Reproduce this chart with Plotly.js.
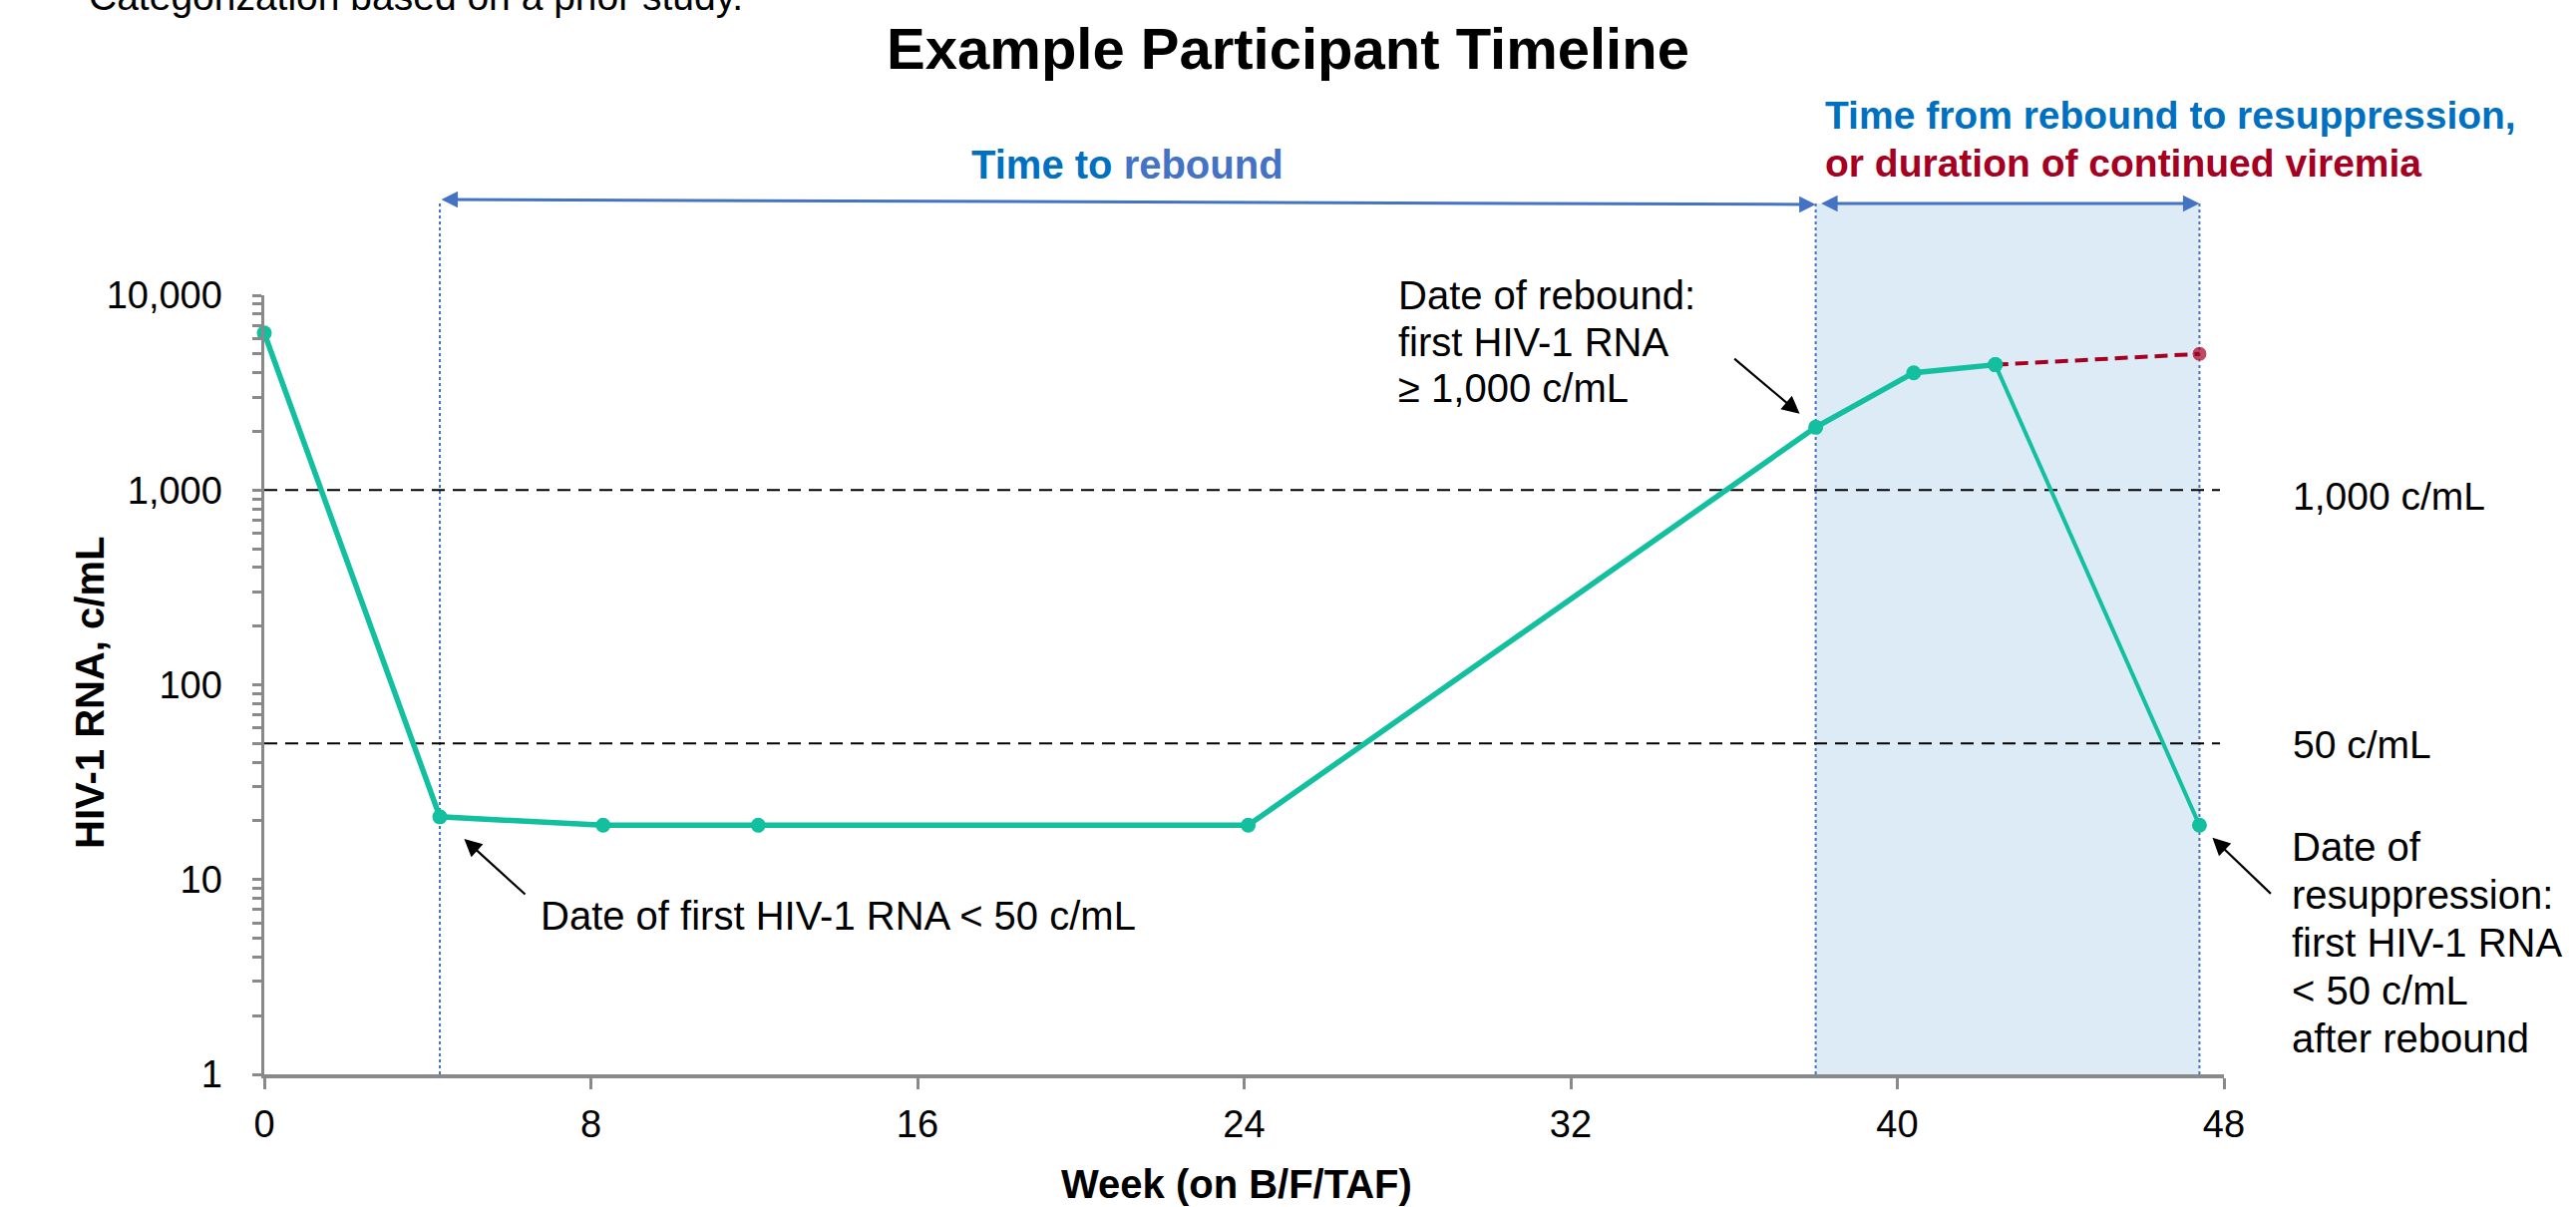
<!DOCTYPE html>
<html><head><meta charset="utf-8">
<script src="https://cdn.plot.ly/plotly-3.0.1.min.js"></script>
<style>html,body{margin:0;padding:0;background:#fff;} #chart{width:2583px;height:1210px;}</style>
</head><body><div id="chart"></div>
<script>
// ---- data ----
const weeks = [0, 4.3, 8.3, 12.1, 24.1, 38.0, 40.4, 42.4, 47.4];
const rna = [6400, 21, 19, 19, 19, 2100, 4000, 4400, 19];
const viremiaEndRna = 5000;              // alternative outcome: continued viremia
const thresholds = [1000, 50];
const thresholdLabels = ['1,000 c/mL', '50 c/mL'];
const xTickVals = [0, 8, 16, 24, 32, 40, 48];
const yTickVals = [1, 10, 100, 1000, 10000];
const yTickText = ['1', '10', '100', '1,000', '10,000'];
const reboundLines = ['Date of rebound:', 'first HIV-1 RNA', '\u2265 1,000 c/mL'];
const resuppLines = ['Date of', 'resuppression:', 'first HIV-1 RNA', '&lt; 50 c/mL', 'after rebound'];

// key indices
const iFirst = 1, iRebound = 5, iPeak = 7, iEnd = 8;

// ---- style ----
const GREEN = '#12BF9F', RED = '#A50021', BLUE = '#4472C4', DBLUE = '#0070C0', GRAY = '#898989';
const FONT = 'Liberation Sans, Arial, sans-serif';
const W = 2583, H = 1210;
const M = {l: 265, r: 353, t: 296, b: 133};
const PW = W - M.l - M.r, PH = H - M.t - M.b;
const px = v => (v - M.l) / PW;            // page pixel -> paper x
const py = v => (H - M.b - v) / PH;        // page pixel -> paper y
const wpx = w => w / 48 * PW;              // weeks -> pixel length

const minorVals = [];
for (let d = 1; d <= 1000; d *= 10) for (let k = 2; k <= 9; k++) minorVals.push(k * d);

const traces = [
  {x: [weeks[iPeak], weeks[iEnd]], y: [rna[iPeak], viremiaEndRna], mode: 'lines+markers',
   line: {color: RED, width: 4, dash: '13px,7px'}, marker: {size: [0, 15], color: RED},
   cliponaxis: false, hoverinfo: 'skip'},
  {x: weeks.slice(iPeak), y: rna.slice(iPeak), mode: 'lines+markers',
   line: {color: GREEN, width: 4}, marker: {size: 15, color: GREEN}, cliponaxis: false},
  {x: weeks.slice(0, iPeak + 1), y: rna.slice(0, iPeak + 1), mode: 'lines+markers',
   line: {color: GREEN, width: 5.5}, marker: {size: 15, color: GREEN}, cliponaxis: false}
];

const shapes = [
  {type: 'rect', layer: 'below', xref: 'x', yref: 'paper', x0: weeks[iRebound], x1: weeks[iEnd],
   y0: 0, y1: py(204), fillcolor: '#DDEBF7', line: {width: 0}},
  ...[iFirst, iRebound, iEnd].map(i => ({type: 'line', layer: 'below', xref: 'x', yref: 'paper',
   x0: weeks[i], x1: weeks[i], y0: 0, y1: py(204), line: {color: BLUE, width: 2, dash: 'dot'}})),
  ...thresholds.map(t => ({type: 'line', layer: 'below', xref: 'paper', yref: 'y',
   x0: 0, x1: px(2226), y0: t, y1: t,
   line: {color: '#000', width: 2, dash: '13px,8px'}}))
];

const txt = (text, x, y, opts = {}) => Object.assign({
  text, xref: 'paper', yref: 'paper', x: px(x), y: py(y), xanchor: 'left', yanchor: 'middle',
  showarrow: false, font: {family: FONT, size: 40, color: '#000'}
}, opts);

const blueArrow = (fromIdx, toIdx, yFrom, yTo, startGap) => ({
  text: '', xref: 'x', yref: 'paper', x: weeks[toIdx], y: py(yTo),
  axref: 'pixel', ayref: 'pixel', ax: wpx(weeks[fromIdx] - weeks[toIdx]), ay: yFrom - yTo,
  showarrow: true, arrowside: 'end+start', arrowhead: 2, startarrowhead: 2,
  arrowsize: 1.1, startarrowsize: 1.1, arrowwidth: 3, arrowcolor: BLUE, standoff: 0, startstandoff: startGap
});

const annotations = [
  // cut-off note at top-left
  txt('Categorization based on a prior study.', 87, -4, {font: {family: FONT, size: 39, color: '#000'}}),
  // axis titles
  txt('Week (on B/F/TAF)', 1240, 1187, {xanchor: 'center', font: {family: FONT, size: 40, color: '#000', weight: 700}}),
  txt('HIV-1 RNA, c/mL', 90, 695, {xanchor: 'center', textangle: -90, font: {family: FONT, size: 40, color: '#000', weight: 700}}),
  // period headers
  txt('Time to <span style="color:' + BLUE + '">rebound</span>', 1130, 165,
      {xanchor: 'center', font: {family: FONT, size: 40, color: DBLUE, weight: 700}}),
  txt('Time from rebound to resuppression,', 1828, 116, {font: {family: FONT, size: 39, color: DBLUE, weight: 700}}),
  txt('or duration of continued viremia', 1828, 163, {font: {family: FONT, size: 39, color: RED, weight: 700}}),
  // threshold labels
  txt(thresholdLabels[0], 2297, 497, {font: {family: FONT, size: 39, color: '#000'}}),
  txt(thresholdLabels[1], 2297, 746, {font: {family: FONT, size: 39, color: '#000'}}),
  // point labels
  txt('Date of first HIV-1 RNA &lt; 50 c/mL', 540, 918),
  ...reboundLines.map((l, k) => txt(l, 1400, 296 + 46.5 * k)),
  ...resuppLines.map((l, k) => txt(l, 2296, 849 + 48 * k)),
  // black pointer arrows
  ...[[iFirst, 87, 79, 33], [iRebound, -83, -70, 21], [iEnd, 73, 70, 18]].map(([i, ax, ay, so]) => ({
    text: '', x: weeks[i], y: Math.log10(rna[i]), xref: 'x', yref: 'y', ax, ay, standoff: so,
    showarrow: true, arrowhead: 2, arrowsize: 1.6, arrowwidth: 2.2, arrowcolor: '#000'})),
  // blue double-headed period arrows
  blueArrow(iFirst, iRebound, 200, 205, 0),
  blueArrow(iRebound, iEnd, 204, 204, 4)
];

const axisCommon = {showline: true, linecolor: GRAY, linewidth: 3.5, ticks: 'outside', tickwidth: 3,
  tickcolor: GRAY, showgrid: false, zeroline: false, tickfont: {family: FONT, size: 38, color: '#000'}, fixedrange: true};

const layout = {
  width: W, height: H, margin: Object.assign({pad: 0}, M),
  paper_bgcolor: '#fff', plot_bgcolor: 'rgba(0,0,0,0)', showlegend: false,
  font: {family: FONT, color: '#000', size: 38},
  title: {text: 'Example Participant Timeline', font: {family: FONT, size: 58, color: '#000', weight: 700},
          xref: 'container', x: 0.5, xanchor: 'center', yref: 'container', y: 1 - 49 / H, yanchor: 'middle'},
  xaxis: Object.assign({}, axisCommon, {range: [0, 48], tickmode: 'array', tickvals: xTickVals, ticklen: 11,
          ticklabelstandoff: 3}),
  yaxis: Object.assign({}, axisCommon, {type: 'log', range: [0, 4], tickmode: 'array', tickvals: yTickVals,
          ticktext: yTickText, ticklen: 9, ticklabelstandoff: 22,
          minor: {tickmode: 'array', tickvals: minorVals, ticks: 'outside', ticklen: 9, tickwidth: 3, tickcolor: GRAY, showgrid: false}}),
  shapes, annotations
};

Plotly.newPlot('chart', traces, layout, {staticPlot: true, displayModeBar: false});
</script></body></html>
